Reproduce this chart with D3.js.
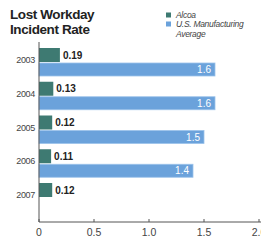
<!DOCTYPE html>
<html><head><meta charset="utf-8">
<script src="https://cdn.jsdelivr.net/npm/d3@7"></script>
<style>body{margin:0;background:#fff}svg{display:block}text{font-family:"Liberation Sans",Arial,sans-serif}</style>
</head><body>
<script>
const years = ["2003","2004","2005","2006","2007"];
const alcoa = [0.19,0.13,0.12,0.11,0.12];
const usAvg = [1.6,1.6,1.5,1.4,null];
const xTicks = [0,0.5,1.0,1.5,2.0];
const xTickLabels = ["0","0.5","1.0","1.5","2.0"];

const W=261,H=248;
const svg=d3.select("body").append("svg").attr("width",W).attr("height",H);
const x=d3.scaleLinear().domain([0,2]).range([39,259]);
const y=d3.scaleBand().domain(years).range([48,216.75]).paddingInner(0).paddingOuter(0);
const green="#3e7a72", blue="#6ba2db";

// title
const t=svg.append("text").attr("x",10).attr("font-weight","bold").attr("font-size",13.5).attr("fill","#222").attr("letter-spacing",-0.4);
t.append("tspan").attr("x",10).attr("y",19).text("Lost Workday");
t.append("tspan").attr("x",10).attr("y",33.5).text("Incident Rate");

// legend
const leg=[{c:green,l:["Alcoa"]},{c:blue,l:["U.S. Manufacturing","Average"]}];
leg.forEach((d,i)=>{
  const yy=13+i*9;
  svg.append("rect").attr("x",166).attr("y",yy-0.5).attr("width",5).attr("height",5).attr("fill",d.c);
  d.l.forEach((s,j)=>svg.append("text").attr("x",176).attr("y",yy+5+j*10).attr("font-size",8.5).attr("font-style","italic").attr("fill","#444").attr("letter-spacing",-0.3).text(s));
});

// bars
years.forEach((yr,i)=>{
  const y0=y(yr);
  svg.append("rect").attr("x",x(0)).attr("y",y0).attr("width",x(alcoa[i])-x(0)).attr("height",14).attr("fill",green);
  svg.append("text").attr("x",x(alcoa[i])+3).attr("y",y0+10.5).attr("font-size",10).attr("font-weight","bold").attr("fill","#222").text(alcoa[i].toFixed(2));
  if(usAvg[i]!=null){
    svg.append("rect").attr("x",x(0)).attr("y",y0+15).attr("width",x(usAvg[i])-x(0)).attr("height",13).attr("fill",blue).attr("stroke","#9cc2ea").attr("stroke-width",0.8);
    svg.append("text").attr("x",x(usAvg[i])-4).attr("y",y0+25).attr("text-anchor","end").attr("font-size",10).attr("fill","#fff").text(usAvg[i].toFixed(1));
  }
  svg.append("text").attr("x",35).attr("y",y0+15).attr("text-anchor","end").attr("font-size",9).attr("fill","#444").attr("letter-spacing",-0.3).text(yr);
});

// axes
svg.append("line").attr("x1",39).attr("x2",39).attr("y1",42).attr("y2",222).attr("stroke","#555").attr("stroke-width",1);
svg.append("line").attr("x1",39).attr("x2",261).attr("y1",222).attr("y2",222).attr("stroke","#555").attr("stroke-width",1);
xTicks.forEach((v,i)=>{
  svg.append("line").attr("x1",x(v)).attr("x2",x(v)).attr("y1",219).attr("y2",222).attr("stroke","#555");
  svg.append("text").attr("x",x(v)).attr("y",236).attr("text-anchor","middle").attr("font-size",10.5).attr("fill","#444").text(xTickLabels[i]);
});
</script>
</body></html>
